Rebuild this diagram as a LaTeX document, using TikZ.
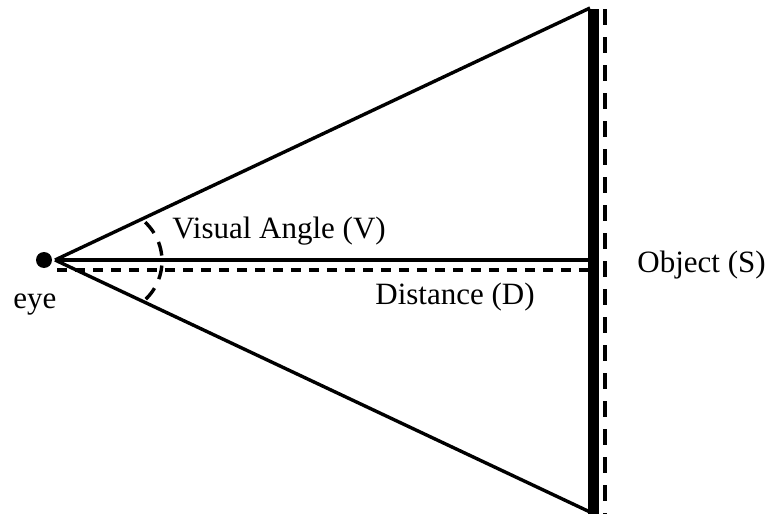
\documentclass[tikz,border=0pt]{standalone}
\usepackage{fontspec}
\setmainfont{Liberation Serif}

\tikzset{
    ray/.style={line width=1.7pt},
    guide/.style={line width=2.1pt,dash pattern=on 5pt off 4pt},
    label/.style={anchor=base west,inner sep=0pt},
}

\begin{document}
\begin{tikzpicture}[x=0.5pt,y=-0.5pt,font=\fontsize{15.5}{18}\selectfont]
    \useasboundingbox (0,0) rectangle (768,514);
    % eye and object
    \node[circle,fill,inner sep=0pt,minimum size=8pt] (eye) at (44,260) {};
    \coordinate (apex) at (55,260);
    \coordinate (top) at (590,8);
    \coordinate (bot) at (590,512);
    \coordinate (objtop) at (593.5,9);
    \coordinate (objbot) at (593.5,514);
    \coordinate (sizetop) at (605,9);
    \coordinate (sizebot) at (605,514);
    \coordinate (disttop) at (57,270);
    \coordinate (distend) at (588,270);
    \coordinate (vc) at (109,261);
    % labels
    \node[label] (angle) at (172,238) {Visual Angle (V)};
    \node[label] (dist) at (375,305) {Distance (D)};
    \node[label] (obj) at (637,272) {Object (S)};
    \node[label] (eyelbl) at (13,308) {eye};
    % lines
    \draw[ray] (apex) -- (top);
    \draw[ray] (apex) -- (bot);
    \draw[ray] (apex) -- (objtop |- apex);
    \draw[line width=5.5pt] (objtop) -- (objbot);
    \draw[line width=2pt,dash pattern=on 8pt off 6pt] (sizetop) -- (sizebot);
    \draw[guide] (disttop) -- (distend);
    \draw[ray,dash pattern=on 7pt off 5pt] ([shift={(-47:53)}]vc) arc[start angle=-47,end angle=47,radius=53];
\end{tikzpicture}
\end{document}
